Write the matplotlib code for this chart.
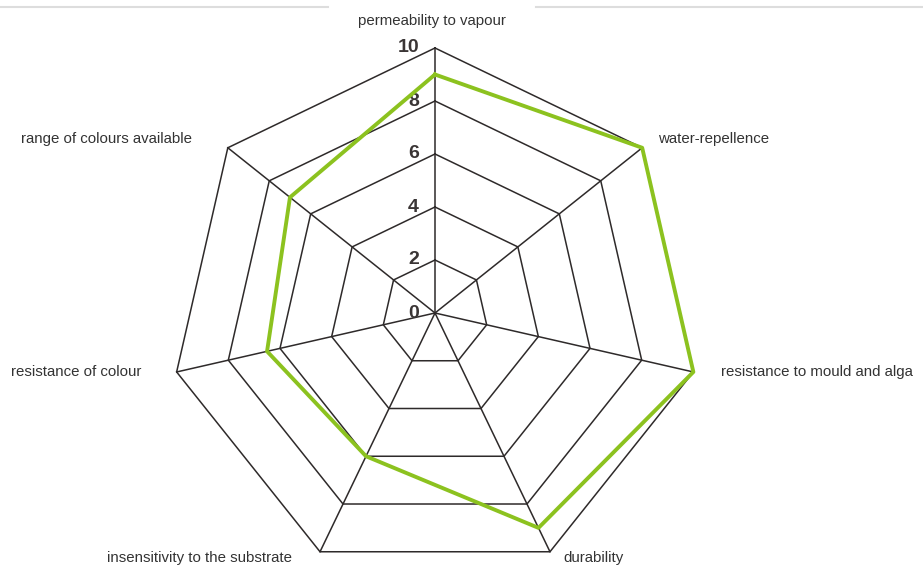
import numpy as np
import matplotlib
matplotlib.use("Agg")
import matplotlib.pyplot as plt
from matplotlib.lines import Line2D

plt.rcParams['font.family'] = ['Liberation Sans', 'DejaVu Sans']

categories = ["permeability to vapour", "water-repellence", "resistance to mould and alga",
              "durability", "insensitivity to the substrate", "resistance of colour",
              "range of colours available"]
values = [9, 10, 10, 9, 6, 6.5, 7]
rings = [2, 4, 6, 8, 10]
tick_labels = ["0", "2", "4", "6", "8", "10"]

# label offsets from each outer vertex, in pixels
label_offsets = [(-3, 27, "center"), (16, 9, "left"), (28, 0, "left"), (13, -6, "left"),
                 (-28, -6, "right"), (-35, 0, "right"), (-36, 9, "right")]

W, H = 923, 567
fig = plt.figure(figsize=(W / 100, H / 100), dpi=100)

cx, cy, R = 435, 254, 265
ax = fig.add_axes([(cx - R) / W, (cy - R) / H, 2 * R / W, 2 * R / H], projection="polar")
ax.set_theta_zero_location("N")
ax.set_theta_direction(-1)
ax.set_ylim(0, 10)
ax.axis("off")

n = len(categories)
theta = np.arange(n) * 2 * np.pi / n
theta_c = np.append(theta, theta[0])

grid_col = "#2e2a2a"
for r in rings:
    ax.plot(theta_c, [r] * (n + 1), color=grid_col, lw=1.1, clip_on=False)
for t in theta:
    ax.plot([t, t], [0, 10], color=grid_col, lw=1.1, clip_on=False)

vals = values + [values[0]]
ax.plot(theta_c, vals, color="#8cc21f", lw=2.8, clip_on=False, zorder=5)

for i, lab in enumerate(tick_labels):
    ax.annotate(lab, xy=(0, int(lab)), xytext=(-16, 0), textcoords="offset pixels",
                ha="right", va="center", fontsize=14, fontweight="bold", color="#3a3535")

for t, lab, (dx, dy, ha) in zip(theta, categories, label_offsets):
    ax.annotate(lab, xy=(t, 10), xytext=(dx, dy), textcoords="offset pixels",
                ha=ha, va="center", fontsize=10.8, color="#333333")

# header rule
fig.add_artist(Line2D([0, 328 / W], [1 - 7 / H] * 2, color="#dddddd", lw=1.5))
fig.add_artist(Line2D([536 / W, 1], [1 - 7 / H] * 2, color="#dddddd", lw=1.5))

fig.savefig("out.png", dpi=100)
